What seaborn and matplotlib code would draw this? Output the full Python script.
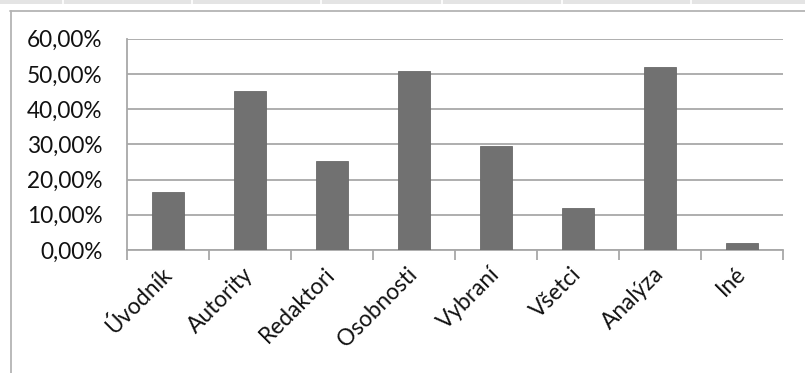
import matplotlib
matplotlib.use("Agg")
import matplotlib.pyplot as plt
from matplotlib.ticker import FuncFormatter, FixedLocator
from matplotlib.lines import Line2D
from matplotlib.patches import Rectangle
import seaborn as sns
import pandas as pd

categories = ["Úvodník", "Autority", "Redaktori", "Osobnosti", "Vybraní", "Všetci", "Analýza", "Iné"]
shares = [0.166, 0.452, 0.254, 0.509, 0.295, 0.118, 0.520, 0.019]
y_ticks = [0.0, 0.1, 0.2, 0.3, 0.4, 0.5, 0.6]

sns.set_theme(style="white")
plt.rcParams["font.family"] = ["Lato", "DejaVu Sans"]

W, H = 805, 373
fig = plt.figure(figsize=(W / 100, H / 100), dpi=100)
fig.patch.set_facecolor("white")

# spreadsheet header strip and chart frame
fig.add_artist(Rectangle((0, 1 - 4 / H), 1, 4 / H, transform=fig.transFigure,
                         facecolor="#e4e4e4", edgecolor="none"))
for xs in [63, 192, 321, 442, 562, 691]:
    fig.add_artist(Line2D([xs / W, xs / W], [1 - 4 / H, 1], transform=fig.transFigure,
                          color="white", lw=1.2))
fig.add_artist(Line2D([10 / W, 1], [1 - 10.5 / H, 1 - 10.5 / H], transform=fig.transFigure,
                      color="#b4b4b4", lw=1.3))
fig.add_artist(Line2D([10.5 / W, 10.5 / W], [0, 1 - 10.5 / H], transform=fig.transFigure,
                      color="#b4b4b4", lw=1.3))

left, right = 127 / W, 783 / W
top_px, bot_px = 38.7, 250
ax = fig.add_axes([left, (H - bot_px) / H, right - left, (bot_px - top_px) / H])

df = pd.DataFrame({"category": categories, "share": shares})
sns.barplot(data=df, x="category", y="share", color="#717171", width=0.39,
            saturation=1, edgecolor="#6a6a6a", linewidth=0.6, ax=ax, zorder=3)

ax.set_ylim(0, 0.6)
ax.set_xlim(-0.5, len(categories) - 0.5)
ax.yaxis.set_major_locator(FixedLocator(y_ticks))
ax.yaxis.set_major_formatter(FuncFormatter(lambda v, _: f"{v * 100:.2f}".replace(".", ",") + "%"))
ax.grid(axis="y", color="#a8a8a8", lw=1.3, zorder=0)
ax.grid(axis="x", visible=False)

grey = "#a8a8a8"
for side in ["top", "right"]:
    ax.spines[side].set_visible(False)
for side in ["left", "bottom"]:
    ax.spines[side].set_color(grey)
    ax.spines[side].set_linewidth(1.3)

ax.set_xlabel("")
ax.set_ylabel("")
fs = 16.3
ax.tick_params(axis="y", which="major", length=9, width=1.3, color=grey,
               labelsize=fs, labelcolor="#111111", pad=8.5)
ax.set_xticks(range(len(categories)))
ax.set_xticklabels(categories, rotation=45, ha="right", va="center", rotation_mode="anchor")
ax.tick_params(axis="x", which="major", length=0, labelsize=fs, labelcolor="#111111", pad=15)
ax.set_xticks([i - 0.5 for i in range(len(categories) + 1)], minor=True)
ax.tick_params(axis="x", which="minor", length=7, width=1.3, color=grey, bottom=True)

fig.savefig("out.png", dpi=100, facecolor="white")
